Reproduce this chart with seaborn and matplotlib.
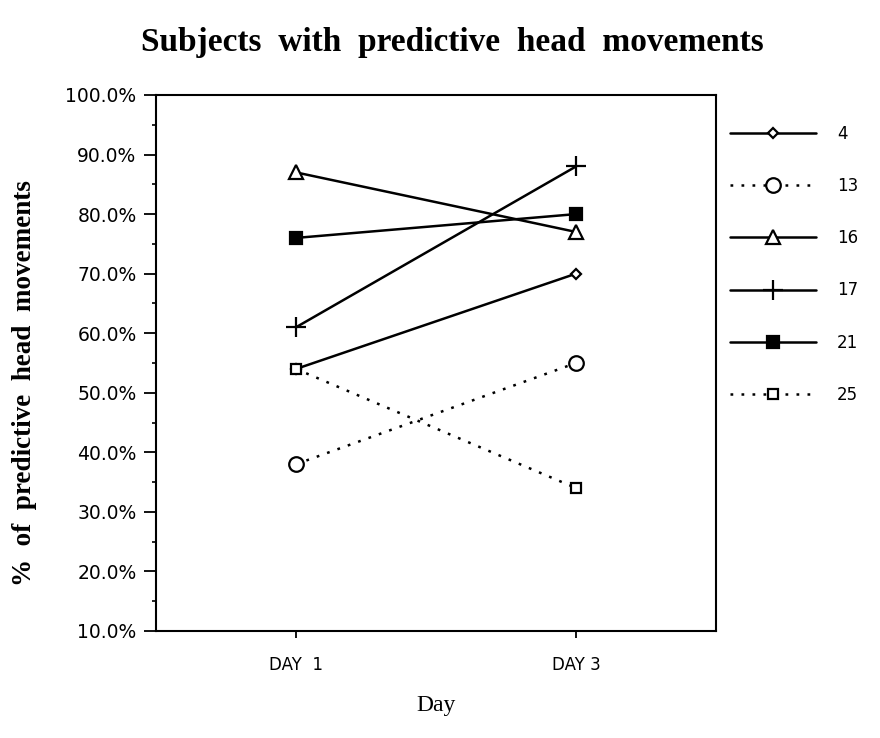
import matplotlib
matplotlib.use('Agg')
import matplotlib.pyplot as plt
import matplotlib.ticker as mticker
import pandas as pd
import seaborn as sns

# Data
days = ["DAY  1", "DAY 3"]
subjects = ["4", "13", "16", "17", "21", "25"]
day1 = [54, 38, 87, 61, 76, 54]
day3 = [70, 55, 77, 88, 80, 34]

# per-subject marker styling
markers = ["D", "o", "^", "+", "s", "s"]
marker_sizes = [5, 10.5, 9.5, 14, 8, 7]
fills = ["white", "white", "white", "black", "black", "white"]
dotted = (0, (1.1, 3.3))
line_styles = ["-", dotted, "-", "-", "-", dotted]

rows = []
for i, s in enumerate(subjects):
    rows.append({"subject": s, "day": 0, "pct": day1[i]})
    rows.append({"subject": s, "day": 1, "pct": day3[i]})
df = pd.DataFrame(rows)

sns.set_style("ticks")
plt.rcParams['font.family'] = ['DejaVu Sans']
for key in ["text.color", "axes.labelcolor", "xtick.color", "ytick.color"]:
    plt.rcParams[key] = "black"

fig = plt.figure(figsize=(8.8, 7.38), dpi=100)
ax = fig.add_axes([0.1773, 0.145, 0.6364, 0.7263])

for i, s in enumerate(subjects):
    sub = df[df["subject"] == s]
    sns.lineplot(data=sub, x="day", y="pct", ax=ax, color="black",
                 linewidth=1.8, linestyle=line_styles[i], marker=markers[i],
                 markersize=marker_sizes[i], markerfacecolor=fills[i],
                 markeredgecolor="black", markeredgewidth=1.6, label=s)

ax.set_xlim(-0.5, 1.5)
ax.set_ylim(10, 100)
ax.set_xticks([0, 1])
ax.set_xticklabels(days, fontsize=12)
ax.set_yticks(range(10, 101, 10))
ax.yaxis.set_minor_locator(mticker.MultipleLocator(5))
ax.yaxis.set_major_formatter(mticker.StrMethodFormatter("{x:.1f}%"))
ax.tick_params(axis="y", labelsize=13.5, length=9, width=1.3, pad=5)
ax.tick_params(axis="y", which="minor", length=3, width=1.2)
ax.tick_params(axis="x", length=5, width=1.3, pad=13)
for sp in ax.spines.values():
    sp.set_linewidth(1.5)
    sp.set_color("black")

ax.set_xlabel("Day", family="Liberation Serif", fontsize=17, labelpad=15)
ax.set_ylabel("%  of  predictive  head  movements", family="Liberation Serif",
              fontsize=19.5, fontweight="bold")
ax.yaxis.set_label_coords(-0.212, 0.463)
fig.suptitle("Subjects  with  predictive  head  movements",
             family="Liberation Serif", fontsize=24, fontweight="bold",
             x=0.514, y=0.943, va="center")

ax.legend(loc="upper left", bbox_to_anchor=(0.9975, 0.972), frameon=False,
          handlelength=5.2, handletextpad=1.25, labelspacing=2.05, fontsize=12)

plt.savefig("out.png", dpi=100)
